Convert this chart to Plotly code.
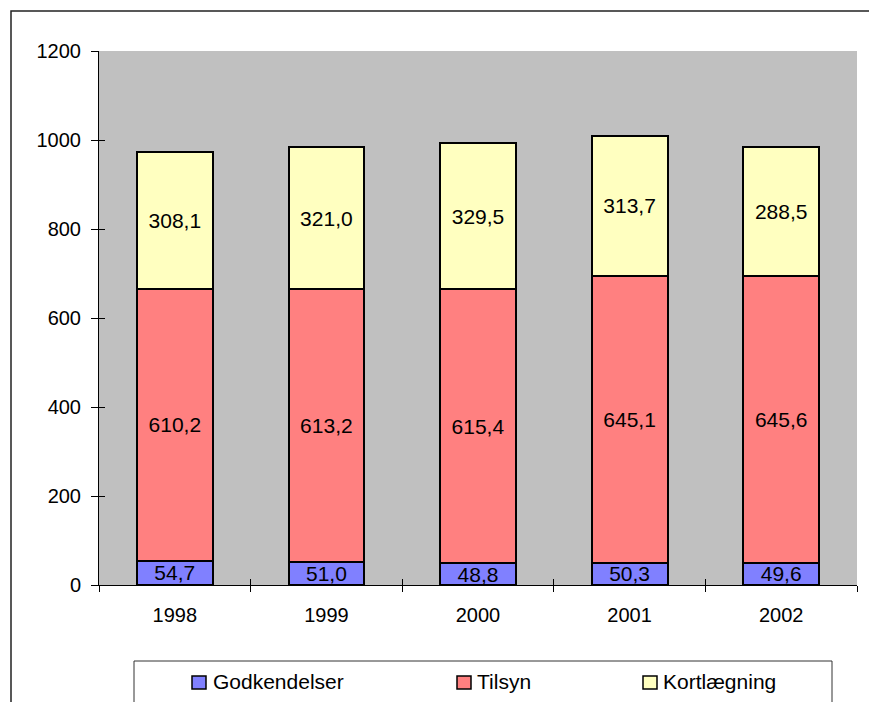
import plotly.graph_objects as go

years = ["1998", "1999", "2000", "2001", "2002"]
godkendelser = [54.7, 51.0, 48.8, 50.3, 49.6]
tilsyn = [610.2, 613.2, 615.4, 645.1, 645.6]
kortlaegning = [308.1, 321.0, 329.5, 313.7, 288.5]
series_names = ["Godkendelser", "Tilsyn", "Kortlægning"]
series_colors = ["#8080FF", "#FF8080", "#FFFFC0"]
y_ticks = [0, 200, 400, 600, 800, 1000, 1200]

OFF = 8  # page body margin
W, H = 877 - OFF, 702 - OFF
# target screen positions of plot area
SL, SR, ST, SB = 99, 857, 51, 585
L, R, T, B = SL - OFF, SR - OFF, ST - OFF, SB - OFF
FONT = "Arial, Liberation Sans, sans-serif"

def px(x):
    return (x - SL) / (SR - SL)

def py(y):
    return (SB - y) / (SB - ST)

fig = go.Figure()
for name, vals, col in zip(series_names, [godkendelser, tilsyn, kortlaegning], series_colors):
    fig.add_trace(go.Bar(
        x=years, y=vals, name=name,
        marker=dict(color=col, line=dict(color="black", width=2)),
        texttemplate="%{y:.1f}", textposition="inside", insidetextanchor="middle",
        textangle=0, constraintext="none",
        textfont=dict(family=FONT, size=21, color="black"),
        showlegend=False,
    ))

# dummy trace to create overlay axes for crossing ticks
fig.add_trace(go.Scatter(x=[None], y=[None], xaxis="x2", yaxis="y2",
                         showlegend=False, hoverinfo="skip"))

shapes = []
annotations = []
# outer chart border
shapes.append(dict(type="rect", xref="paper", yref="paper",
                   x0=px(11), x1=px(890), y0=py(11), y1=py(715),
                   line=dict(color="#222222", width=1.5), fillcolor="rgba(0,0,0,0)", layer="below"))
# legend box
shapes.append(dict(type="rect", xref="paper", yref="paper",
                   x0=px(134), x1=px(832), y0=py(661), y1=py(715),
                   line=dict(color="#333333", width=1), fillcolor="white"))
leg_sq = [192, 457, 643]
leg_tx = [211, 475, 661]
for name, col, sx, tx in zip(series_names, series_colors, leg_sq, leg_tx):
    shapes.append(dict(type="rect", xref="paper", yref="paper",
                       x0=px(sx), x1=px(sx + 14), y0=py(676), y1=py(689),
                       line=dict(color="black", width=1.5), fillcolor=col))
    annotations.append(dict(xref="paper", yref="paper", x=px(tx), y=py(682),
                            xanchor="left", yanchor="middle", showarrow=False,
                            text=name, font=dict(family=FONT, size=21, color="black")))

fig.update_layout(
    width=W, height=H,
    margin=dict(l=L, r=W - R, t=T, b=H - B, autoexpand=False),
    barmode="stack", bargap=0.5,
    separators=",.",
    paper_bgcolor="white", plot_bgcolor="#C0C0C0",
    font=dict(family=FONT, size=20, color="black"),
    uniformtext=dict(minsize=21, mode="show"),
    shapes=shapes, annotations=annotations,
    xaxis=dict(type="category", showline=True, linecolor="black", linewidth=1,
               ticks="outside", tickson="boundaries", ticklen=6, tickcolor="black",
               showgrid=False, zeroline=False, ticklabelstandoff=12,
               tickfont=dict(family=FONT, size=20, color="black")),
    yaxis=dict(range=[0, 1200], tickvals=y_ticks, showline=True, linecolor="black",
               linewidth=1, ticks="outside", ticklen=7, tickcolor="black",
               showgrid=False, zeroline=False, ticklabelstandoff=6,
               tickfont=dict(family=FONT, size=20, color="black")),
    xaxis2=dict(overlaying="x", anchor="y2", side="bottom", range=[-0.5, 4.5],
                tickvals=[-0.5, 0.5, 1.5, 2.5, 3.5, 4.5], ticks="inside", ticklen=6,
                tickcolor="black", showticklabels=False, showgrid=False,
                zeroline=False, showline=False),
    yaxis2=dict(overlaying="y", anchor="x2", side="left", range=[0, 1200],
                tickvals=y_ticks, ticks="inside", ticklen=6, tickcolor="black",
                showticklabels=False, showgrid=False, zeroline=False, showline=False),
)

fig.write_html("out.html")
